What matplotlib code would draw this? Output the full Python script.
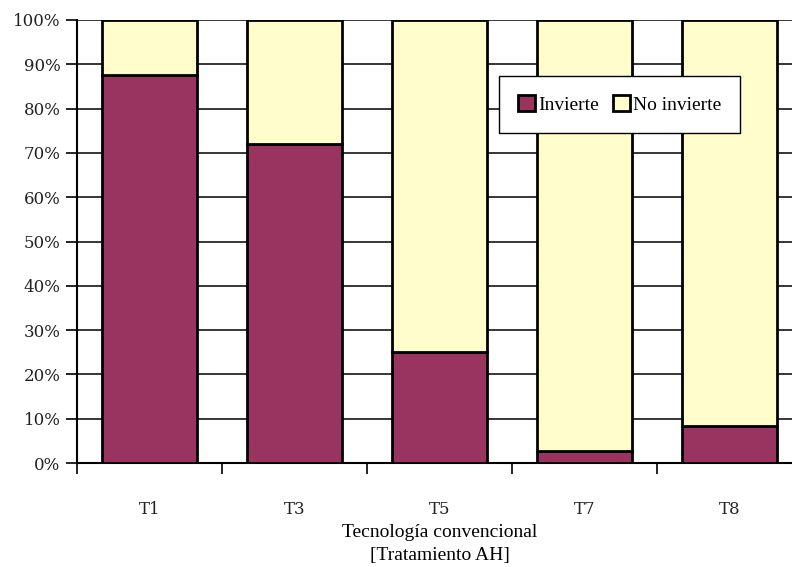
import matplotlib
matplotlib.use("Agg")
import matplotlib.pyplot as plt
import numpy as np
from matplotlib.ticker import FuncFormatter

categories = ["T1", "T3", "T5", "T7", "T8"]
invierte = [87.5, 72.0, 25.0, 2.7, 8.3]
no_invierte = [100 - v for v in invierte]

color_inv = "#993461"
color_no = "#FFFDCB"

fig = plt.figure(figsize=(7.92, 5.67), dpi=100)
ax = fig.add_axes([77 / 792, 1 - 463 / 567, 725 / 792, 443 / 567])

x = np.arange(len(categories))
w = 0.662
ax.bar(x, invierte, width=w, color=color_inv, edgecolor="black", linewidth=2, zorder=3,
       label="Invierte")
ax.bar(x, no_invierte, width=w, bottom=invierte, color=color_no, edgecolor="black",
       linewidth=2, zorder=3, label="No invierte")

ax.set_xlim(-0.5, len(categories) - 0.5)
ax.set_ylim(0, 100)
ax.set_yticks(np.arange(0, 101, 10))
ax.yaxis.set_major_formatter(FuncFormatter(lambda v, p: f"{int(v)}%"))
ax.grid(axis="y", color="black", linewidth=1.1, zorder=0)
ax.tick_params(axis="y", direction="out", length=8, width=1.2, pad=4, labelsize=12)
for lab in ax.get_yticklabels():
    lab.set_fontfamily("DejaVu Serif")
    lab.set_color("#222222")

ax.set_xticks(x)
ax.set_xticklabels(categories, fontfamily="DejaVu Serif", fontsize=12, color="#222222")
ax.tick_params(axis="x", which="major", length=0, pad=27)
ax.set_xticks(np.arange(-0.5, len(categories), 1), minor=True)
ax.tick_params(axis="x", which="minor", direction="out", length=8, width=1.2)

ax.set_xlabel("Tecnología convencional\n[Tratamiento AH]", fontfamily="Liberation Serif",
              fontsize=14, labelpad=5, linespacing=1.45)

for s in ["top", "right"]:
    ax.spines[s].set_visible(False)
ax.spines["left"].set_linewidth(1.5)
ax.spines["bottom"].set_linewidth(1.5)

leg = ax.legend(loc="upper left", bbox_to_anchor=((499 - 77) / 725, (463 - 76) / 443),
                ncol=2, frameon=True, fancybox=False, edgecolor="black", framealpha=1,
                prop={"family": "Liberation Serif", "size": 14},
                handlelength=0.85, handleheight=0.85, handletextpad=0.15,
                columnspacing=0.75, borderpad=1.0, borderaxespad=0)
leg.get_frame().set_linewidth(1.0)
leg.set_zorder(5)

fig.savefig("out.png", dpi=100)
